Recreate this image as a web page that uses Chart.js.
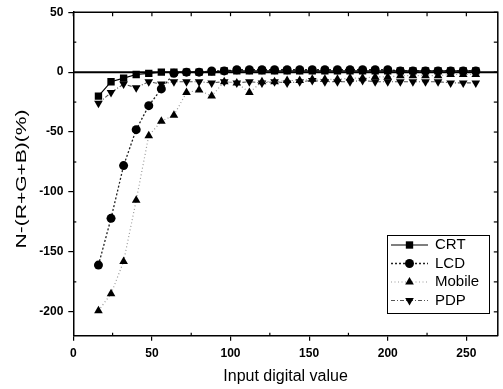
<!DOCTYPE html>
<html><head><meta charset="utf-8">
<script src="https://cdn.jsdelivr.net/npm/chart.js@4"></script>
<style>html,body{margin:0;padding:0;background:#fff}#wrap{width:503px;height:389px;position:relative}</style>
</head><body><div id="wrap"><canvas id="c" width="503" height="389"></canvas></div>
<script>
const inputValues = [16,24,32,40,48,56,64,72,80,88,96,104,112,120,128,136,144,152,160,168,176,184,192,200,208,216,224,232,240,248,256];
const crt    = [-20,-8,-5,-2,-1,0,0,0,0,0,1,1,1,1,1,1,1,1,1,1,1,1,1,1,1,1,1,1,1,1,1];
const lcd    = [-161,-122,-78,-48,-28,-14,-1,0,0,1,1,2,2,2,2,2,2,2,2,2,2,2,2,2,1,1,1,1,1,1,1];
const mobile = [-199,-185,-158,-107,-53,-41,-36,-17,-15,-20,-8,-9,-17,-8,-8,-7,-7,-6,-6,-6,-5,-5,-4,-4,-3,-3,-3,-3,-2,-2,-2];
const pdp    = [-26,-17,-10,-13,-8,-10,-8,-8,-8,-9,-8,-9,-8,-9,-8,-9,-8,-7,-8,-8,-8,-7,-8,-8,-8,-8,-8,-8,-9,-9,-9];
const seriesNames = ['CRT','LCD','Mobile','PDP'];
const xTickLabels = [0,50,100,150,200,250];
const yTickLabels = [50,0,-50,-100,-150,-200];
const xTitle = 'Input digital value';
const yTitle = 'N-(R+G+B)(%)';

const pts = arr => arr.map((v,i)=>({x:inputValues[i], y:v}));
const FONT = 'Arial, "Liberation Sans", sans-serif';

const styles = [
  {borderColor:'#000', backgroundColor:'#000', borderDash:[], borderWidth:1.2, pointStyle:'rect', pointRadius:5.2, rotation:0},
  {borderColor:'#222', backgroundColor:'#000', borderDash:[2,2], borderWidth:1.3, pointStyle:'circle', pointRadius:4.5, rotation:0},
  {borderColor:'#9a9a9a', backgroundColor:'#000', borderDash:[1,2.5], borderWidth:1.2, pointStyle:'triangle', pointRadius:5, rotation:0},
  {borderColor:'#555', backgroundColor:'#000', borderDash:[4,2,1,2], borderWidth:1.1, pointStyle:'triangle', pointRadius:5, rotation:180}
];
const seriesData = [crt, lcd, mobile, pdp];

const datasets = seriesNames.map((n,i)=>Object.assign({
  label:n, data:pts(seriesData[i]), showLine:true, fill:false, tension:0,
  pointBorderWidth:0, pointHoverRadius:5
}, styles[i], {pointBackgroundColor:'#000', pointBorderColor:'#000'}));

const framePlugin = {
  id:'frame',
  beforeDatasetsDraw(chart){
    const {ctx, chartArea:a, scales:{x,y}} = chart;
    ctx.save();
    ctx.strokeStyle='#000';
    const y0 = y.getPixelForValue(0);
    ctx.lineWidth=2;
    ctx.beginPath(); ctx.moveTo(a.left,y0); ctx.lineTo(a.right,y0); ctx.stroke();
    ctx.lineWidth=1.5;
    ctx.beginPath(); ctx.moveTo(a.left,a.top); ctx.lineTo(a.right,a.top); ctx.lineTo(a.right,a.bottom); ctx.stroke();
    ctx.lineWidth=1.2;
    x.ticks.forEach(t=>{
      const px=x.getPixelForValue(t.value);
      ctx.beginPath(); ctx.moveTo(px,a.top); ctx.lineTo(px,a.top+4); ctx.stroke();
      if(t.value%50!==0){ ctx.beginPath(); ctx.moveTo(px,a.bottom); ctx.lineTo(px,a.bottom-3); ctx.stroke(); }
    });
    y.ticks.forEach(t=>{
      const py=y.getPixelForValue(t.value);
      ctx.beginPath(); ctx.moveTo(a.right,py); ctx.lineTo(a.right-4,py); ctx.stroke();
      if(t.value%50!==0){ ctx.beginPath(); ctx.moveTo(a.left,py); ctx.lineTo(a.left+3,py); ctx.stroke(); }
    });
    ctx.restore();
  },
  afterDraw(chart){
    const {ctx} = chart;
    ctx.save();
    ctx.fillStyle='#000';
    ctx.font='15px '+FONT;
    ctx.textAlign='center'; ctx.textBaseline='middle';
    ctx.translate(22,179); ctx.rotate(-Math.PI/2); ctx.scale(1.4,1);
    ctx.fillText(yTitle,0,0);
    ctx.restore();
    const L=387, T=235, R=489, B=313;
    ctx.save();
    ctx.strokeStyle='#000'; ctx.lineWidth=1;
    ctx.strokeRect(L+0.5,T+0.5,R-L,B-T);
    ctx.font='15px '+FONT; ctx.textBaseline='middle'; ctx.textAlign='left'; ctx.fillStyle='#000';
    chart.data.datasets.forEach((ds,i)=>{
      const yy = 245 + i*18.5;
      ctx.save();
      ctx.strokeStyle=ds.borderColor; ctx.lineWidth=ds.borderWidth; ctx.setLineDash(ds.borderDash||[]);
      ctx.beginPath(); ctx.moveTo(391,yy); ctx.lineTo(428,yy); ctx.stroke();
      ctx.restore();
      Chart.helpers.drawPoint(ctx,{pointStyle:ds.pointStyle, radius:ds.pointRadius, rotation:ds.rotation, borderWidth:0}, 409.5, yy);
      ctx.fillStyle='#000';
      ctx.fillText(ds.label,435,yy);
    });
    ctx.restore();
  }
};

new Chart(document.getElementById('c'),{
  type:'line',
  data:{datasets},
  plugins:[framePlugin],
  options:{
    responsive:false, animation:false,
    layout:{padding:{top:10,right:2,left:0,bottom:0}},
    plugins:{legend:{display:false}, tooltip:{enabled:false}},
    elements:{point:{borderWidth:0}},
    scales:{
      x:{type:'linear', min:0, max:270,
        afterFit(s){ s.height=53.2; },
        border:{display:true,color:'#000',width:1.5},
        grid:{drawOnChartArea:false, drawTicks:true, tickLength:5, lineWidth:1.2,
          color:c=>(c.tick && c.tick.value%50===0)?'#000':'rgba(0,0,0,0)'},
        ticks:{stepSize:25, includeBounds:false, autoSkip:false, maxRotation:0, padding:6, color:'#000',
          font:{family:FONT,size:12,weight:'bold'},
          callback:v=>xTickLabels.includes(v)?String(v):''},
        title:{display:true, text:xTitle, color:'#000', font:{family:FONT,size:16}, padding:{top:0,bottom:3}}
      },
      y:{type:'linear', min:-220, max:50,
        afterFit(s){ s.width=73.3; },
        border:{display:true,color:'#000',width:1.5},
        grid:{drawOnChartArea:false, drawTicks:true, tickLength:5, lineWidth:1.2,
          color:c=>(c.tick && c.tick.value%50===0)?'#000':'rgba(0,0,0,0)'},
        ticks:{stepSize:25, includeBounds:false, autoSkip:false, padding:5, color:'#000',
          font:{family:FONT,size:12,weight:'bold'},
          callback:v=>yTickLabels.includes(v)?String(v):''},
        title:{display:false}
      }
    }
  }
});
</script></body></html>
